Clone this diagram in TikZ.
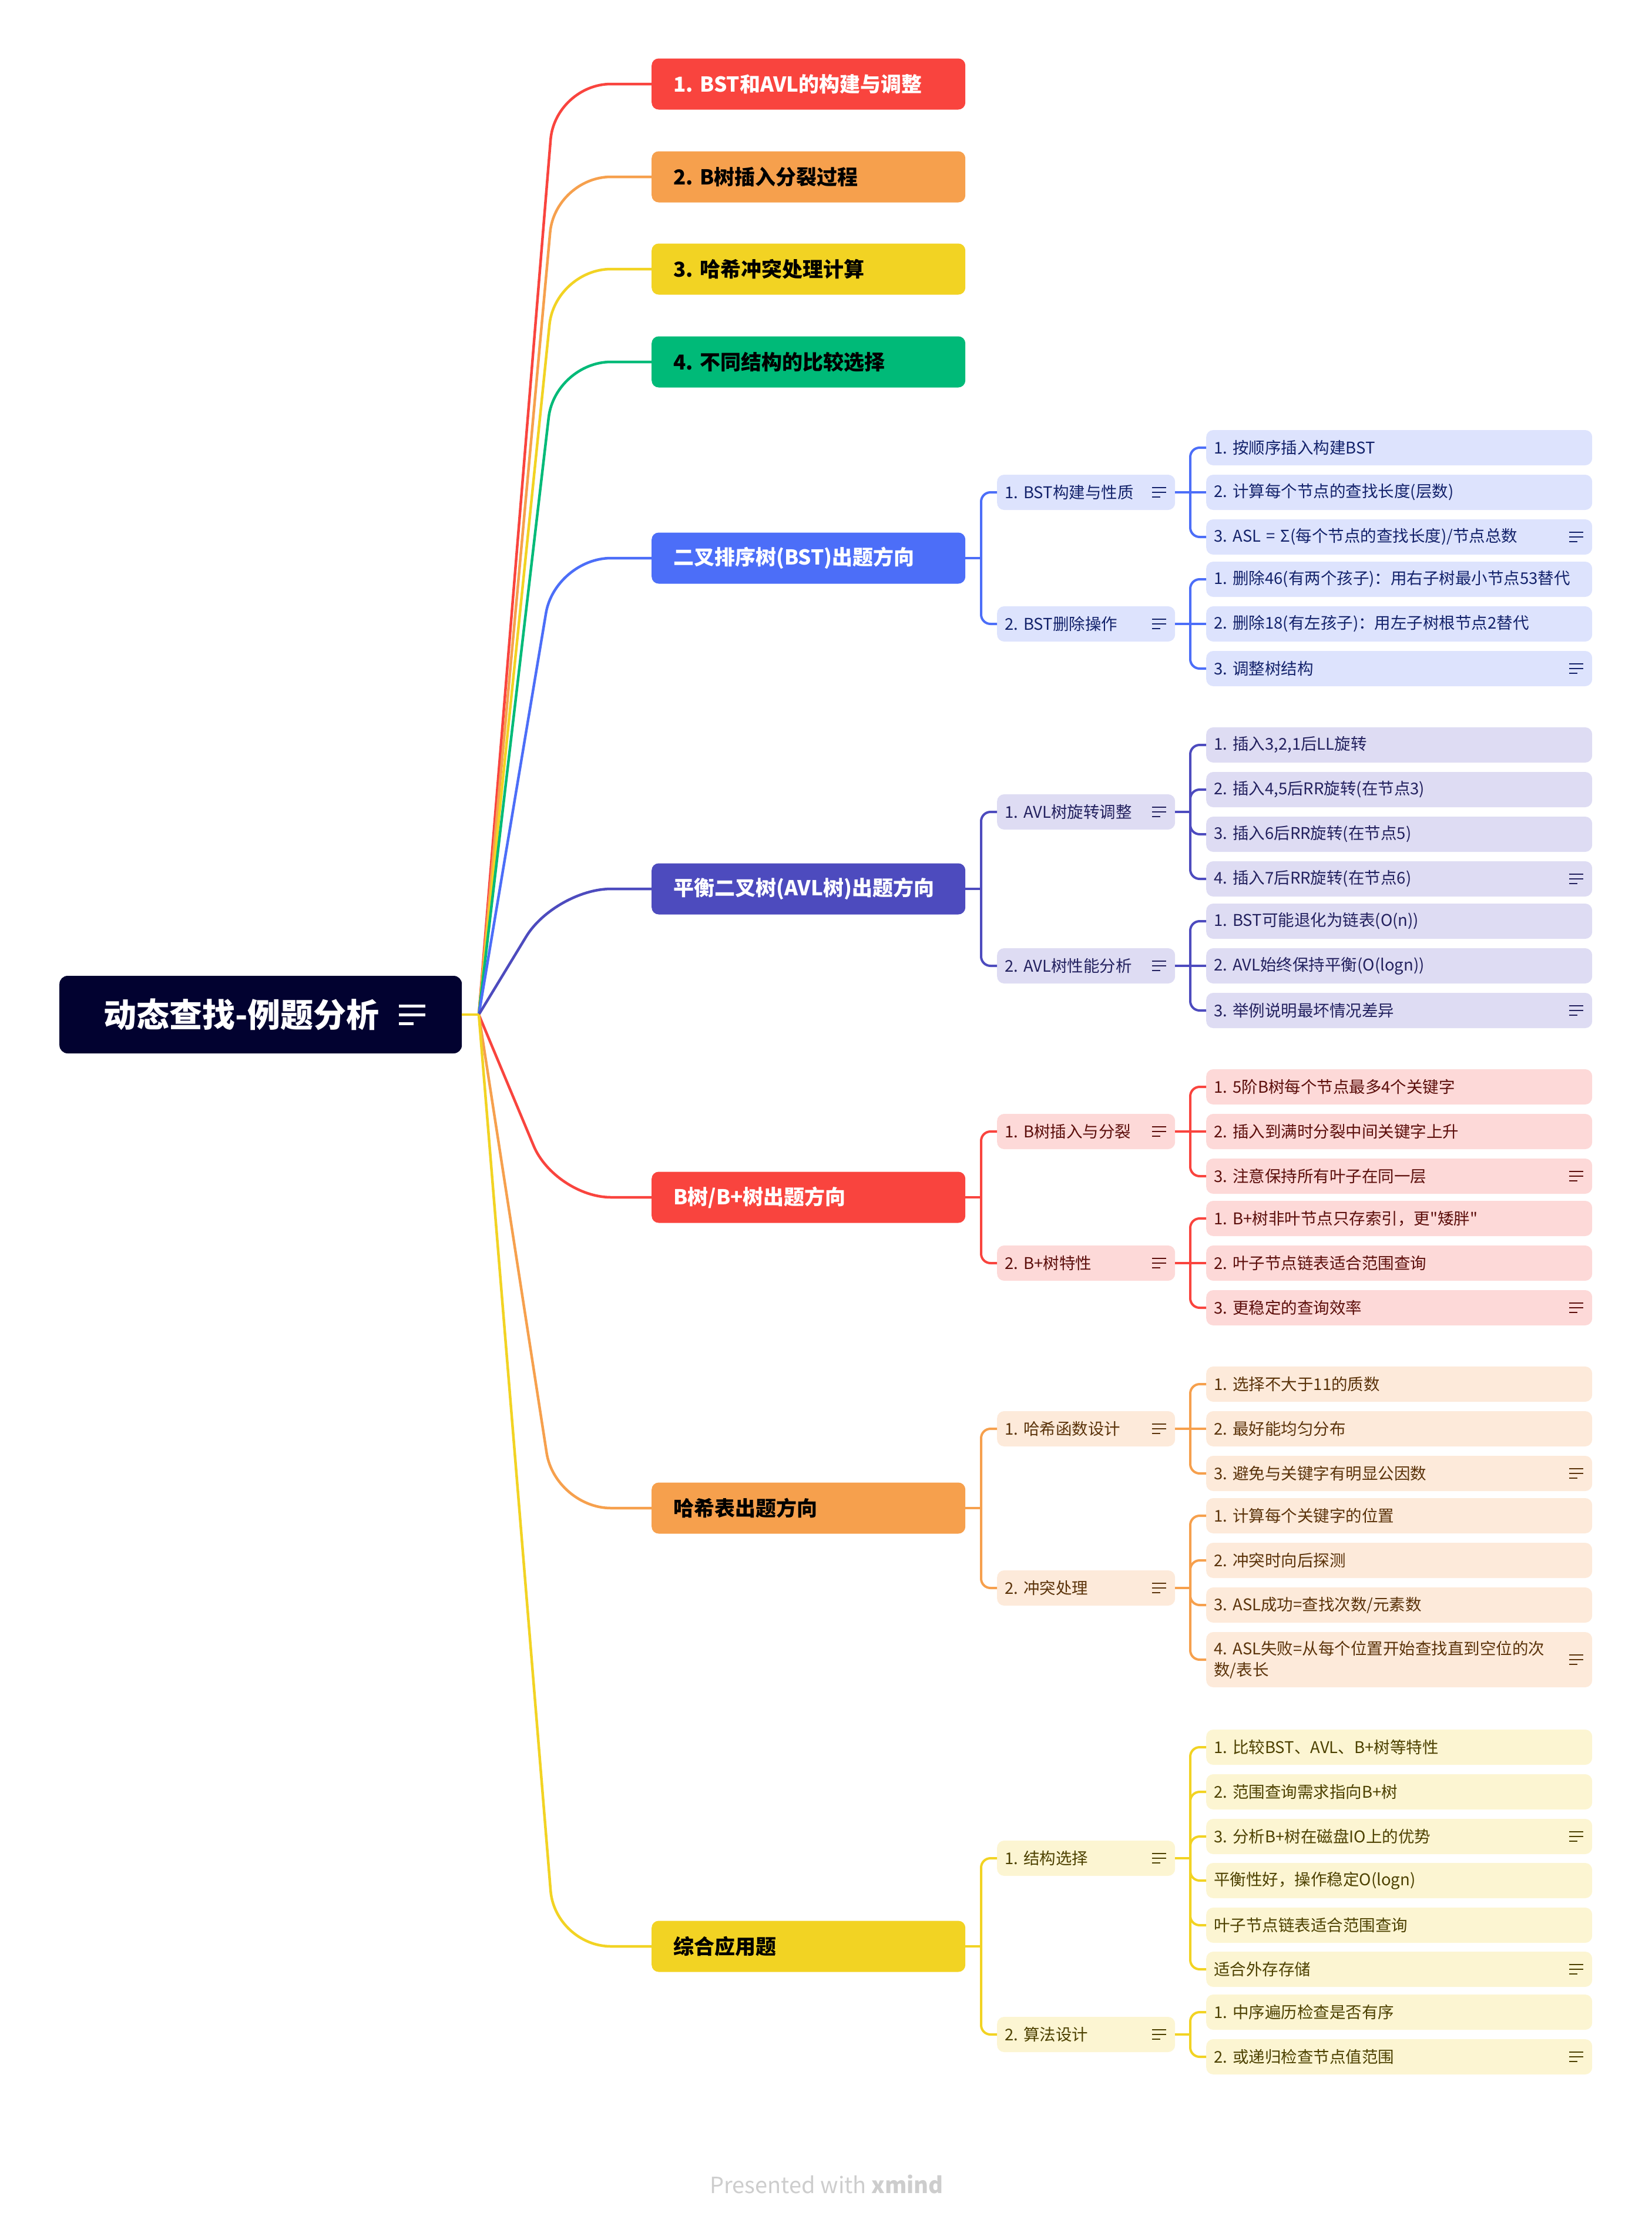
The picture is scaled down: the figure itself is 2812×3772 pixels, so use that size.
\documentclass[tikz,border=0pt]{standalone}
\usepackage{fontspec}
\setmainfont{Noto Sans CJK SC}[Ligatures=TeXOff]
\usepackage{xcolor}
\usepackage{tikz}
\usetikzlibrary{positioning, calc}
\frenchspacing

\definecolor{rootc}{HTML}{020230}
\definecolor{redc}{HTML}{F9443E}
\definecolor{orangec}{HTML}{F6A04D}
\definecolor{yellowc}{HTML}{F2D323}
\definecolor{greenc}{HTML}{00BA78}
\definecolor{bluec}{HTML}{4C6EF8}
\definecolor{indigoc}{HTML}{4D4BBE}
\definecolor{bluelt}{HTML}{DDE3FD}
\definecolor{indigolt}{HTML}{DEDCF3}
\definecolor{redlt}{HTML}{FDD9D8}
\definecolor{orangelt}{HTML}{FDEADA}
\definecolor{yellowlt}{HTML}{FCF5D2}
\definecolor{bluedk}{HTML}{13226B}
\definecolor{indigodk}{HTML}{23215F}
\definecolor{reddk}{HTML}{5C0E0B}
\definecolor{orangedk}{HTML}{5B330A}
\definecolor{yellowdk}{HTML}{4D4100}
\definecolor{creditc}{HTML}{CDCDCD}

\tikzset{
    rootbox/.style={fill=rootc, text=white, rounded corners=14pt, anchor=west,
        minimum width=685pt, minimum height=132pt, inner xsep=75pt, text width=535pt,
        align=left, font=\fontsize{56}{64}\selectfont\bfseries},
    topic/.style={rounded corners=12pt, anchor=west, minimum width=534pt, minimum height=87pt,
        inner xsep=37pt, inner ysep=4pt, text width=460pt, align=left,
        font=\fontsize{35}{42}\selectfont\bfseries},
    subtopic/.style={rounded corners=12pt, anchor=west, minimum width=303pt, minimum height=60pt,
        inner xsep=13pt, inner ysep=4pt, text width=277pt, align=left,
        font=\fontsize{27.5}{34}\selectfont},
    leaf/.style={subtopic, minimum width=657pt, text width=631pt},
    bstfill/.style={fill=bluelt, text=bluedk},
    avlfill/.style={fill=indigolt, text=indigodk},
    btfill/.style={fill=redlt, text=reddk},
    hsfill/.style={fill=orangelt, text=orangedk},
    apfill/.style={fill=yellowlt, text=yellowdk},
    fanline/.style={line width=4.5pt, rounded corners=95pt},
    branchline/.style={line width=4pt, rounded corners=16pt},
}

% note icon: node, colour, width, thickness, margin from right edge
\newcommand{\menuicon}[5]{%
    \draw[#2, line width=#4] ($(#1.east)+(-#5-#3,-#3/3)$) -- ++(#3,0)
        ($(#1.east)+(-#5-#3,0)$) -- ++(#3,0)
        ($(#1.east)+(-#5-#3,#3/3)$) -- ++(0.55*#3,0);}

\begin{document}
\begin{tikzpicture}[x=1pt, y=-1pt]
    \useasboundingbox (0,0) rectangle (2812,3772);

    % Root
    \node[rootbox] (root) at (101,1727) {动态查找-例题分析};
    \menuicon{root}{white}{45}{5pt}{62}

    % Main topics
    \node[topic, fill=redc, text=white] (top1) at (1109,143) {1. BST和AVL的构建与调整};
    \node[topic, fill=orangec, text=black] (top2) at (1109,301) {2. B树插入分裂过程};
    \node[topic, fill=yellowc, text=black] (top3) at (1109,458) {3. 哈希冲突处理计算};
    \node[topic, fill=greenc, text=black] (top4) at (1109,616) {4. 不同结构的比较选择};
    \node[topic, fill=bluec, text=white] (bst) at (1109,950) {二叉排序树(BST)出题方向};
    \node[topic, fill=indigoc, text=white] (avl) at (1109,1513) {平衡二叉树(AVL树)出题方向};
    \node[topic, fill=redc, text=white] (btree) at (1109,2038) {B树/B+树出题方向};
    \node[topic, fill=orangec, text=black] (hash) at (1109,2567) {哈希表出题方向};
    \node[topic, fill=yellowc, text=black] (app) at (1109,3313) {综合应用题};

    % Sub topics
    \node[subtopic, bstfill] (bst1) at (1697,838) {1. BST构建与性质};
    \node[subtopic, bstfill] (bst2) at (1697,1062) {2. BST删除操作};
    \node[subtopic, avlfill] (avl1) at (1697,1382) {1. AVL树旋转调整};
    \node[subtopic, avlfill] (avl2) at (1697,1644) {2. AVL树性能分析};
    \node[subtopic, btfill] (bt1) at (1697,1926) {1. B树插入与分裂};
    \node[subtopic, btfill] (bt2) at (1697,2150) {2. B+树特性};
    \node[subtopic, hsfill] (hs1) at (1697,2432) {1. 哈希函数设计};
    \node[subtopic, hsfill] (hs2) at (1697,2703) {2. 冲突处理};
    \node[subtopic, apfill] (ap1) at (1697,3163) {1. 结构选择};
    \node[subtopic, apfill] (ap2) at (1697,3463) {2. 算法设计};

    % Leaves
    \foreach \y/\txt [count=\i] in {762/{1. 按顺序插入构建BST}, 838/{2. 计算每个节点的查找长度(层数)},
        914/{3. ASL = Σ(每个节点的查找长度)/节点总数}}
        \node[leaf, bstfill] (bst1-\i) at (2053,\y) {\txt};
    \foreach \y/\txt [count=\i] in {986/{1. 删除46(有两个孩子)：用右子树最小节点53替代},
        1062/{2. 删除18(有左孩子)：用左子树根节点2替代}, 1138/{3. 调整树结构}}
        \node[leaf, bstfill] (bst2-\i) at (2053,\y) {\txt};
    \foreach \y/\txt [count=\i] in {1268/{1. 插入3,2,1后LL旋转}, 1344/{2. 插入4,5后RR旋转(在节点3)},
        1420/{3. 插入6后RR旋转(在节点5)}, 1496/{4. 插入7后RR旋转(在节点6)}}
        \node[leaf, avlfill] (avl1-\i) at (2053,\y) {\txt};
    \foreach \y/\txt [count=\i] in {1568/{1. BST可能退化为链表(O(n))}, 1644/{2. AVL始终保持平衡(O(logn))},
        1720/{3. 举例说明最坏情况差异}}
        \node[leaf, avlfill] (avl2-\i) at (2053,\y) {\txt};
    \foreach \y/\txt [count=\i] in {1850/{1. 5阶B树每个节点最多4个关键字}, 1926/{2. 插入到满时分裂中间关键字上升},
        2002/{3. 注意保持所有叶子在同一层}}
        \node[leaf, btfill] (bt1-\i) at (2053,\y) {\txt};
    \foreach \y/\txt [count=\i] in {2074/{1. B+树非叶节点只存索引，更"矮胖"}, 2150/{2. 叶子节点链表适合范围查询},
        2226/{3. 更稳定的查询效率}}
        \node[leaf, btfill] (bt2-\i) at (2053,\y) {\txt};
    \foreach \y/\txt [count=\i] in {2356/{1. 选择不大于11的质数}, 2432/{2. 最好能均匀分布},
        2508/{3. 避免与关键字有明显公因数}}
        \node[leaf, hsfill] (hs1-\i) at (2053,\y) {\txt};
    \foreach \y/\txt [count=\i] in {2580/{1. 计算每个关键字的位置}, 2656/{2. 冲突时向后探测},
        2732/{3. ASL成功=查找次数/元素数}}
        \node[leaf, hsfill] (hs2-\i) at (2053,\y) {\txt};
    \node[leaf, hsfill, minimum height=94pt, font=\fontsize{27.5}{36}\selectfont] (hs2-4) at (2053,2825)
        {4. ASL失败=从每个位置开始查找直到空位的次\\数/表长};
    \foreach \y/\txt [count=\i] in {2974/{1. 比较BST、AVL、B+树等特性}, 3050/{2. 范围查询需求指向B+树},
        3126/{3. 分析B+树在磁盘IO上的优势}, 3201/{平衡性好，操作稳定O(logn)},
        3277/{叶子节点链表适合范围查询}, 3352/{适合外存存储}}
        \node[leaf, apfill] (ap1-\i) at (2053,\y) {\txt};
    \foreach \y/\txt [count=\i] in {3425/{1. 中序遍历检查是否有序}, 3501/{2. 或递归检查节点值范围}}
        \node[leaf, apfill] (ap2-\i) at (2053,\y) {\txt};

    % Note icons
    \foreach \n/\c in {bst1/bluedk, bst2/bluedk, avl1/indigodk, avl2/indigodk, bt1/reddk, bt2/reddk,
        hs1/orangedk, hs2/orangedk, ap1/yellowdk, ap2/yellowdk}
        \menuicon{\n}{\c}{24}{2.6pt}{15};
    \foreach \n/\c in {bst1-3/bluedk, bst2-3/bluedk, avl1-4/indigodk, avl2-3/indigodk, bt1-3/reddk,
        bt2-3/reddk, hs1-3/orangedk, hs2-4/orangedk, ap1-3/yellowdk, ap1-6/yellowdk, ap2-2/yellowdk}
        \menuicon{\n}{\c}{24}{2.6pt}{15};

    % Connectors from the root
    \coordinate (hub) at (815,1727);
    \coordinate (bend) at (945,0);
    \coordinate (spineA) at (1670,0);
    \coordinate (spineB) at (2026,0);
    \foreach \n/\c in {top1/redc, top2/orangec, top3/yellowc, top4/greenc, bst/bluec, avl/indigoc,
        btree/redc, hash/orangec, app/yellowc}
        \draw[fanline, \c] (hub) -- (bend |- \n.west) -- (\n.west);
    \draw[line width=4.5pt, yellowc] (root.east) -- (hub);

    % Main topics to sub topics
    \foreach \p/\s/\c in {bst/bst1/bluec, bst/bst2/bluec, avl/avl1/indigoc, avl/avl2/indigoc,
        btree/bt1/redc, btree/bt2/redc, hash/hs1/orangec, hash/hs2/orangec, app/ap1/yellowc, app/ap2/yellowc} {
        \draw[branchline, \c] (\p.east) -- (spineA |- \p.east);
        \draw[branchline, \c] (spineA |- \p.east) |- (\s.west);
    }

    % Sub topics to leaves
    \foreach \p/\c in {bst1/bluec, bst2/bluec, avl1/indigoc, avl2/indigoc, bt1/redc, bt2/redc,
        hs1/orangec, hs2/orangec, ap1/yellowc, ap2/yellowc}
        \draw[branchline, \c] (\p.east) -- (spineB |- \p.east);
    \foreach \p/\k/\c in {bst1/1/bluec, bst1/3/bluec, bst2/1/bluec, bst2/3/bluec,
        avl1/1/indigoc, avl1/2/indigoc, avl1/3/indigoc, avl1/4/indigoc, avl2/1/indigoc, avl2/3/indigoc,
        bt1/1/redc, bt1/3/redc, bt2/1/redc, bt2/3/redc, hs1/1/orangec, hs1/3/orangec,
        hs2/1/orangec, hs2/2/orangec, hs2/3/orangec, hs2/4/orangec,
        ap1/1/yellowc, ap1/2/yellowc, ap1/3/yellowc, ap1/4/yellowc, ap1/5/yellowc, ap1/6/yellowc,
        ap2/1/yellowc, ap2/2/yellowc}
        \draw[branchline, \c] (spineB |- \p.east) |- (\p-\k.west);
    \foreach \p/\c in {bst1/bluec, bst2/bluec, avl2/indigoc, bt1/redc, bt2/redc, hs1/orangec}
        \draw[branchline, \c] (\p.east) -- (\p-2.west);

    % Footer
    \node[text=creditc, font=\fontsize{38}{44}\selectfont] (credit) at (1407,3718)
        {Presented with \textbf{xmind}};
\end{tikzpicture}
\end{document}
